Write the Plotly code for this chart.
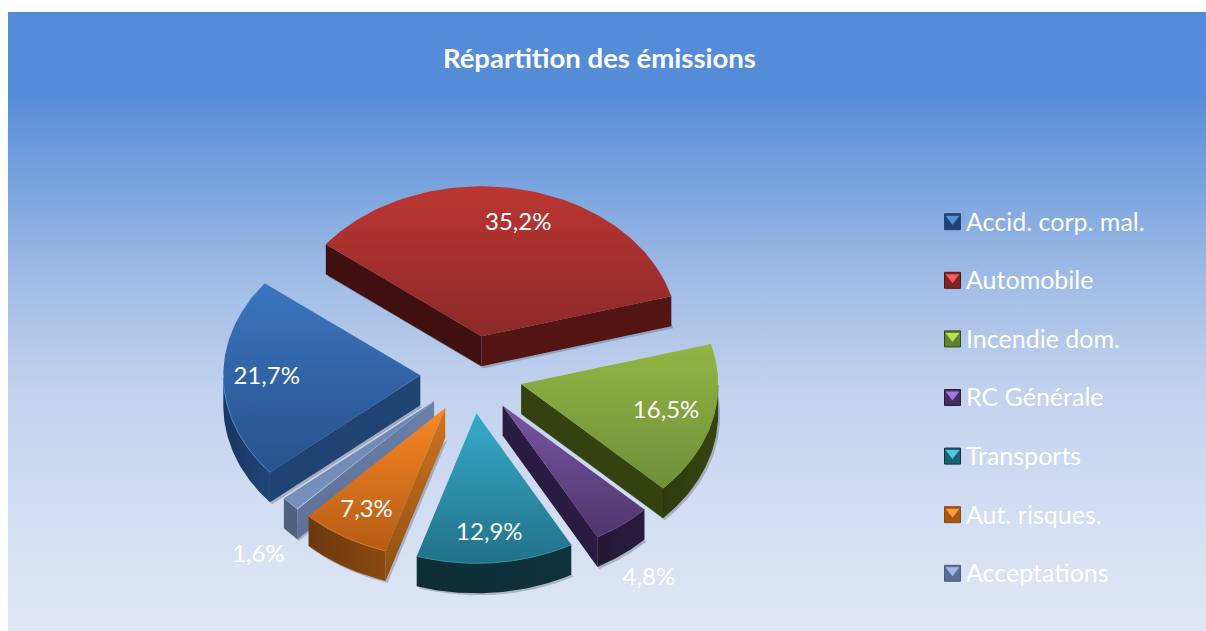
import numpy as np
import plotly.graph_objects as go

title = "Répartition des émissions"
categories = ["Accid. corp. mal.", "Automobile", "Incendie dom.", "RC Générale",
              "Transports", "Aut. risques.", "Acceptations"]
values = [21.7, 35.2, 16.5, 4.8, 12.9, 7.3, 1.6]
outside = [False, False, False, True, False, False, True]

# styles
top_top = ["#3b75bf", "#bb3633", "#92b545", "#7855a5", "#36abc9", "#f78725", "#6f86af"]
top_bot = ["#27528c", "#8c2927", "#6f8f37", "#4f366c", "#22718a", "#b55c14", "#7790bd"]
wall_start = ["#1f4373", "#3f100f", "#33420f", "#2a1c40", "#0e2f3a", "#d0741e", "#6a80a8"]
wall_start_b = ["#1f4373", "#3f100f", "#33420f", "#2a1c40", "#0e2f3a", "#8f4f12", "#5d7095"]
wall_end = ["#1f4373", "#521514", "#33420f", "#2a1c40", "#0e2f3a", "#a05a18", "#50617f"]
arc_l = ["#17355f", "#521514", "#2c3a0e", "#231734", "#0d2c36", "#6a380e", "#50617f"]
arc_r = ["#21467a", "#521514", "#36460f", "#2a1c40", "#10323d", "#8a4a10", "#50617f"]
rim = ["#4f86c6", "#a83230", "#7d9c3c", "#65488c", "#2f8fa8", "#d87a20", "#8aa3cf"]
swatch_dark = ["#1f4373", "#7d2321", "#64802f", "#432e5f", "#1d6378", "#a85412", "#5a6e92"]
swatch_light = ["#4f92e0", "#f0605c", "#b9e050", "#a07ad8", "#50c8e6", "#ff9a40", "#a0bce8"]
label_dx = [0, 7, -4, -1, -2, 0, 1]
label_dy = [0, 3, -1, -1, 4, 2, 1]

CX, CY, RX, RY = 471.5, 374.5, 197, 150
EXPLODE, DEPTH, START = 0.26, 30, 229.7
LBL_IN, LBL_OUT = 0.78, 1.23
LEG_X, LEG_Y0, LEG_DY = 952.5, 221.7, 58.6

fig = go.Figure()

# background panel
fig.add_trace(go.Scatter(
    x=[8, 1206, 1206, 8, 8], y=[12, 12, 631, 631, 12], mode="lines", line_width=0,
    fill="toself", hoverinfo="skip", showlegend=False,
    fillgradient=dict(type="vertical", start=12, stop=631,
                      colorscale=[[0, "#548bd8"], [0.13, "#558dd8"], [0.45, "#a4bee6"], [0.62, "#c3d3ee"], [1, "#e0e8f5"]]),
))


def pt(center, ang, r=1.0):
    a = np.radians(ang)
    return center[0] + r * RX * np.sin(a), center[1] - r * RY * np.cos(a)


def poly(xs, ys, fill=None, grad=None):
    fig.add_trace(go.Scatter(
        x=list(xs), y=list(ys), mode="lines", fill="toself",
        line=dict(width=0, color="rgba(0,0,0,0)"),
        fillcolor=fill, fillgradient=grad, hoverinfo="skip", showlegend=False))


def vgrad(ys, c_top, c_bot):
    # explicit start/stop: the first colour lands on the top of the shape
    return dict(type="vertical", start=float(np.min(ys)), stop=float(np.max(ys)),
                colorscale=[[0, c_top], [1, c_bot]])


angles = START + np.cumsum([0] + values) * 3.6
lab_x, lab_y, lab_t = [], [], []
slices = []
for i, v in enumerate(values):
    a0, a1 = angles[i], angles[i + 1]
    mid = (a0 + a1) / 2
    tip = pt((CX, CY), mid, EXPLODE)
    slices.append((tip[1], i, a0, a1, mid, tip))

for _, i, a0, a1, mid, tip in sorted(slices, key=lambda s: s[0]):
    arc = np.linspace(a0, a1, 80)
    ax, ay = pt(tip, arc)
    # soft shadow
    sx = np.r_[tip[0], ax, tip[0]] + 2
    sy = np.r_[tip[1], ay, tip[1]] + DEPTH + 2
    poly(sx, sy, fill="rgba(70,70,80,0.30)")
    # radial walls that face the viewer
    if np.sin(np.radians(a0)) < 0:
        p = pt(tip, a0)
        ys = [tip[1], p[1], p[1] + DEPTH, tip[1] + DEPTH, tip[1]]
        poly([tip[0], p[0], p[0], tip[0], tip[0]], ys, grad=vgrad(ys, wall_start[i], wall_start_b[i]))
    if np.sin(np.radians(a1)) > 0:
        p = pt(tip, a1)
        poly([tip[0], p[0], p[0], tip[0], tip[0]],
             [tip[1], p[1], p[1] + DEPTH, tip[1] + DEPTH, tip[1]], fill=wall_end[i])
    # outer wall (front half of the ellipse)
    mask = np.cos(np.radians(arc)) < 0
    if mask.any():
        fx, fy = ax[mask], ay[mask]
        poly(np.r_[fx, fx[::-1], fx[0]], np.r_[fy, fy[::-1] + DEPTH, fy[0]],
             grad=dict(type="horizontal", colorscale=[[0, arc_l[i]], [1, arc_r[i]]]))
    # top face
    ty = np.r_[tip[1], ay, tip[1]]
    poly(np.r_[tip[0], ax, tip[0]], ty, grad=vgrad(ty, top_top[i], top_bot[i]))
    # rim highlight along the front of the arc
    if mask.any():
        fig.add_trace(go.Scatter(x=ax[mask], y=ay[mask], mode="lines", hoverinfo="skip", showlegend=False,
                                 line=dict(width=1, color=rim[i])))
    # label
    lp = pt(tip, mid, LBL_OUT if outside[i] else LBL_IN)
    lab_x.append(lp[0] + label_dx[i])
    lab_y.append(lp[1] + label_dy[i] + (DEPTH - 2 if outside[i] else 0))
    lab_t.append(f"{values[i]:.1f}%".replace(".", ","))

fig.add_trace(go.Scatter(x=lab_x, y=lab_y, text=lab_t, mode="text", textposition="middle center",
                         textfont=dict(family="Lato", size=24, color="white"),
                         hoverinfo="skip", showlegend=False))

# legend swatches (bevelled squares)
leg_y = [LEG_Y0 + k * LEG_DY for k in range(len(categories))]
fig.add_trace(go.Scatter(x=[LEG_X] * 7, y=leg_y, mode="markers", hoverinfo="skip", showlegend=False,
                         marker=dict(symbol="square", size=16, color=swatch_dark,
                                     line=dict(width=1, color=arc_r))))
fig.add_trace(go.Scatter(x=[LEG_X] * 7, y=[y - 3 for y in leg_y], mode="markers", hoverinfo="skip", showlegend=False,
                         marker=dict(symbol="triangle-down", size=12, color=swatch_light, line_width=0)))

# legend entries (the text; the swatches above sit closer to it than plotly's minimum item width allows)
for i, c in enumerate(categories):
    fig.add_trace(go.Scatter(
        x=[None], y=[None], mode="markers", name=c, legendgroup=c,
        marker=dict(symbol="square", size=17, color="rgba(0,0,0,0)", line_width=0)))

fig.update_layout(
    width=1206, height=631, margin=dict(l=0, r=0, t=0, b=0),
    paper_bgcolor="white", plot_bgcolor="rgba(0,0,0,0)",
    xaxis=dict(range=[0, 1206], visible=False, fixedrange=True),
    yaxis=dict(range=[631, 0], visible=False, fixedrange=True),
    font=dict(family="Lato", color="white"),
    title=dict(text=f"<b>{title}</b>", x=0.497, xanchor="center", y=1 - 58 / 631, yanchor="middle",
               font=dict(family="Lato", size=27.5, color="white")),
    legend=dict(x=926 / 1206, xanchor="left", y=1 - 198 / 631, yanchor="top", bgcolor="rgba(0,0,0,0)",
                font=dict(family="Lato", size=25, color="white"), tracegroupgap=23.1, itemwidth=30),
)
fig.write_html("out.html", post_script="document.body.style.margin='0';", config={"displayModeBar": False})
